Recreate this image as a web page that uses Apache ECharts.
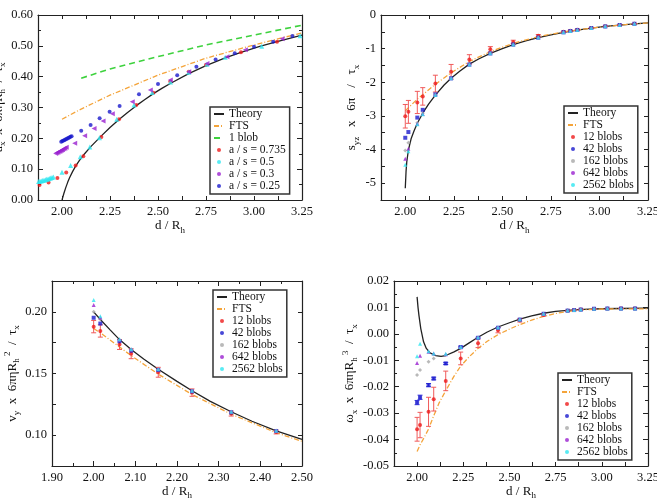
<!DOCTYPE html>
<html>
<head>
<meta charset="utf-8">
<script src="https://cdn.jsdelivr.net/npm/echarts@6/dist/echarts.min.js"></script>
<style>
html, body { margin: 0; padding: 0; background: #fff; }
#chart { width: 657px; height: 503px; }
</style>
</head>
<body>
<div id="chart"></div>
<script>
// ---------- Panel A: u_x (sphere approaching wall) ----------
const uTheoryX = [2.000, 2.010, 2.020, 2.030, 2.040, 2.055, 2.071, 2.090, 2.111, 2.150, 2.205, 2.250, 2.297, 2.340, 2.387, 2.430, 2.476, 2.520, 2.564, 2.660, 2.750, 2.850, 2.932, 3.030, 3.120, 3.250];
const uTheoryY = [0.000, 0.022, 0.041, 0.058, 0.073, 0.092, 0.110, 0.128, 0.145, 0.173, 0.208, 0.235, 0.261, 0.283, 0.306, 0.325, 0.345, 0.362, 0.378, 0.410, 0.436, 0.461, 0.479, 0.498, 0.514, 0.535];
const uFtsX = [2.000, 2.100, 2.250, 2.500, 2.750, 3.000, 3.250];
const uFtsY = [0.262, 0.295, 0.340, 0.405, 0.460, 0.503, 0.542];
const uOneBlobX = [2.100, 2.250, 2.500, 2.750, 3.000, 3.250];
const uOneBlobY = [0.395, 0.425, 0.465, 0.503, 0.535, 0.567];
const uA0735X = [1.883, 1.930, 1.976, 2.022, 2.071, 2.111, 2.205, 2.297, 2.387, 2.476, 2.564, 2.660, 2.750, 2.932, 3.120];
const uA0735Y = [0.049, 0.057, 0.071, 0.089, 0.112, 0.142, 0.204, 0.262, 0.308, 0.348, 0.384, 0.416, 0.438, 0.479, 0.513];
const uA05X = [1.878, 1.885, 1.892, 1.899, 1.906, 1.913, 1.920, 1.927, 1.934, 1.941, 1.948, 1.955, 2.000, 2.045, 2.095, 2.145, 2.195, 2.285, 2.375, 2.470, 2.565, 2.660, 2.755, 2.850, 3.040, 3.240];
const uA05Y = [0.060, 0.061, 0.062, 0.063, 0.064, 0.066, 0.067, 0.068, 0.070, 0.071, 0.073, 0.075, 0.090, 0.112, 0.140, 0.172, 0.202, 0.262, 0.308, 0.349, 0.383, 0.414, 0.440, 0.463, 0.499, 0.533];
const uA03X = [1.967, 1.973, 1.979, 1.985, 1.991, 1.997, 2.003, 2.009, 2.015, 2.022, 2.066, 2.118, 2.167, 2.214, 2.262, 2.366, 2.460, 2.564, 2.660, 2.755, 2.859, 2.955, 3.146];
const uA03Y = [0.151, 0.153, 0.155, 0.157, 0.159, 0.161, 0.163, 0.166, 0.168, 0.171, 0.184, 0.208, 0.232, 0.256, 0.280, 0.319, 0.357, 0.389, 0.416, 0.443, 0.465, 0.487, 0.523];
const uA025X = [1.996, 2.002, 2.008, 2.014, 2.020, 2.026, 2.032, 2.038, 2.044, 2.050, 2.100, 2.149, 2.196, 2.248, 2.300, 2.401, 2.500, 2.600, 2.700, 2.800, 2.900, 3.000, 3.100, 3.200];
const uA025Y = [0.189, 0.191, 0.193, 0.195, 0.197, 0.199, 0.201, 0.203, 0.205, 0.207, 0.225, 0.243, 0.265, 0.286, 0.305, 0.343, 0.376, 0.405, 0.432, 0.456, 0.476, 0.497, 0.513, 0.532];

// sample separations used for the multi-blob runs (panels B, C, D)
const dSample = [2.000, 2.016, 2.062, 2.090, 2.155, 2.236, 2.330, 2.438, 2.556, 2.685, 2.815, 2.850, 2.886, 2.958, 3.030, 3.104, 3.180];

// ---------- Panel B: s_yz ----------
const sTheoryX = [2.000, 2.004, 2.008, 2.016, 2.030, 2.045, 2.062, 2.090, 2.120, 2.155, 2.200, 2.236, 2.280, 2.330, 2.380, 2.438, 2.500, 2.556, 2.620, 2.685, 2.750, 2.815, 2.886, 2.958, 3.030, 3.104, 3.180, 3.250];
const sTheoryY = [-5.15, -4.65, -4.35, -4.02, -3.68, -3.45, -3.22, -2.92, -2.65, -2.38, -2.08, -1.88, -1.67, -1.46, -1.30, -1.14, -1.00, -0.88, -0.77, -0.67, -0.59, -0.515, -0.45, -0.39, -0.34, -0.30, -0.262, -0.232];
const sFtsX = [2.000, 2.016, 2.062, 2.090, 2.155, 2.236, 2.330, 2.438, 2.556, 2.685, 2.815, 2.958, 3.104, 3.250];
const sFtsY = [-2.85, -2.76, -2.50, -2.37, -2.06, -1.72, -1.38, -1.09, -0.84, -0.645, -0.50, -0.39, -0.30, -0.235];
const s12Y = [-3.01, -2.88, -2.60, -2.42, -2.04, -1.69, -1.32, -1.02, -0.80, -0.62, -0.50, -0.47, -0.44, -0.385, -0.335, -0.295, -0.258];
const s12Err = [0.35, 0.34, 0.33, 0.26, 0.25, 0.22, 0.14, 0.08, 0.05, 0.04, 0.02, 0.02, 0.02, 0.015, 0.015, 0.01, 0.01];
const s42Y = [-3.65, -3.48, -3.05, -2.82, -2.36, -1.88, -1.47, -1.14, -0.875, -0.67, -0.51, -0.475, -0.445, -0.387, -0.338, -0.297, -0.26];
const s162Y = [-4.03, -3.80, -3.20, -2.92, -2.37, -1.88, -1.47, -1.14, -0.875, -0.668, -0.51, -0.476, -0.446, -0.388, -0.338, -0.297, -0.26];
const s642Y = [-4.27, -3.98, -3.23, -2.94, -2.38, -1.88, -1.47, -1.14, -0.876, -0.668, -0.51, -0.476, -0.446, -0.388, -0.338, -0.297, -0.26];
const s2562Y = [-4.45, -4.05, -3.25, -2.95, -2.38, -1.88, -1.47, -1.14, -0.876, -0.668, -0.51, -0.476, -0.446, -0.388, -0.338, -0.297, -0.26];

// ---------- Panel C: v_y ----------
const vTheoryX = [2.000, 2.016, 2.040, 2.062, 2.090, 2.120, 2.155, 2.200, 2.236, 2.280, 2.330, 2.380, 2.438, 2.500];
const vTheoryY = [0.2000, 0.1938, 0.1852, 0.1775, 0.1695, 0.1617, 0.1535, 0.1436, 0.1360, 0.1274, 0.1190, 0.1113, 0.1035, 0.0965];
const vFtsX = [2.000, 2.016, 2.062, 2.090, 2.155, 2.236, 2.330, 2.438, 2.500];
const vFtsY = [0.1865, 0.1830, 0.1715, 0.1645, 0.1495, 0.1330, 0.1170, 0.1020, 0.0950];
const v12Y = [0.1880, 0.1845, 0.1735, 0.1660, 0.1510, 0.1345, 0.1175, 0.1025];
const v12Err = [0.0050, 0.0050, 0.0040, 0.0040, 0.0040, 0.0030, 0.0020, 0.0015];
const v42Y = [0.1952, 0.1905, 0.1762, 0.1685, 0.1528, 0.1355, 0.1185, 0.1033];
const v162Y = [0.2000, 0.1940, 0.1772, 0.1692, 0.1533, 0.1358, 0.1188, 0.1035];
const v642Y = [0.2055, 0.1955, 0.1776, 0.1695, 0.1535, 0.1360, 0.1190, 0.1035];
const v2562Y = [0.2095, 0.1965, 0.1778, 0.1697, 0.1535, 0.1360, 0.1190, 0.1036];

// ---------- Panel D: omega_x ----------
const wTheoryX = [2.000, 2.005, 2.010, 2.020, 2.035, 2.050, 2.070, 2.100, 2.130, 2.155, 2.200, 2.236, 2.280, 2.330, 2.380, 2.438, 2.500, 2.556, 2.620, 2.685, 2.750, 2.815, 2.900, 3.000, 3.100, 3.250];
const wTheoryY = [0.0140, 0.0100, 0.0070, 0.0020, -0.0030, -0.0055, -0.0072, -0.0082, -0.0085, -0.0082, -0.0068, -0.0055, -0.0035, -0.0013, 0.0007, 0.0026, 0.0042, 0.0056, 0.0068, 0.0078, 0.0085, 0.0089, 0.0093, 0.0095, 0.0096, 0.0097];
const wFtsX = [2.000, 2.016, 2.040, 2.062, 2.090, 2.120, 2.155, 2.200, 2.236, 2.280, 2.330, 2.380, 2.438, 2.500, 2.556, 2.620, 2.685, 2.750, 2.815, 2.900, 3.000, 3.250];
const wFtsY = [-0.0445, -0.0420, -0.0390, -0.0360, -0.0310, -0.0260, -0.0215, -0.0160, -0.0122, -0.0088, -0.0055, -0.0028, -0.0003, 0.0018, 0.0035, 0.0052, 0.0066, 0.0077, 0.0085, 0.0091, 0.0094, 0.0095];
const w12Y = [-0.0361, -0.0345, -0.0295, -0.0247, -0.0178, -0.0093, -0.0036, 0.0014, 0.0051, 0.0071, 0.0087, 0.0090, 0.0092, 0.0094, 0.0095, 0.0096, 0.0096];
const w12Err = [0.0045, 0.0048, 0.0055, 0.0045, 0.0037, 0.0024, 0.0016, 0.0010, 0.0006, 0.0004, 0.0002, 0.0002, 0.0002, 0.0001, 0.0001, 0.0001, 0.0001];
const w42Y = [-0.0260, -0.0240, -0.0194, -0.0169, -0.0112, -0.0050, -0.0015, 0.0023, 0.0054, 0.0076, 0.0088, 0.0090, 0.0092, 0.0095, 0.0096, 0.0096, 0.0096];
const w42Err = [0.0008, 0.0008, 0.0006, 0.0005, 0.0004, 0.0003, 0.0002, 0.0001, 0, 0, 0, 0, 0, 0, 0, 0, 0];
const w162Y = [-0.0156, -0.0137, -0.0106, -0.0093, -0.0080, -0.0052, -0.0014, 0.0024, 0.0054, 0.0076, 0.0088, 0.0090, 0.0092, 0.0095, 0.0096, 0.0096, 0.0096];
const w642Y = [-0.0110, -0.0083, -0.0068, -0.0074, -0.0077, -0.0051, -0.0014, 0.0024, 0.0054, 0.0076, 0.0088, 0.0090, 0.0092, 0.0095, 0.0096, 0.0096, 0.0096];
const w2562Y = [-0.0085, -0.0037, -0.0066, -0.0074, -0.0075, -0.0050, -0.0014, 0.0024, 0.0054, 0.0076, 0.0088, 0.0090, 0.0092, 0.0095, 0.0096, 0.0096, 0.0096];

const legendA = ['Theory', 'FTS', '1 blob', 'a / s = 0.735', 'a / s = 0.5', 'a / s = 0.3', 'a / s = 0.25'];
const legendBlobs = ['Theory', 'FTS', '12 blobs', '42 blobs', '162 blobs', '642 blobs', '2562 blobs'];
const lineNames = ['Theory', 'FTS', '1 blob'];

// ---------- helpers ----------
const FONT = '"Liberation Serif", "Times New Roman", serif';
const INK = '#222';
const RED = '#ee1c1c', BLUE = '#1a1acc', GREY = '#a8a8a8', PURPLE = '#9a20d0', CYAN = '#2ee6f0';
const ORANGE = '#f4a43a', GREEN = '#3ed23e';

const RICH = {
    n: { fontFamily: FONT, fontSize: 13, color: '#111', lineHeight: 18, verticalAlign: 'middle' },
    s: { fontFamily: FONT, fontSize: 9, color: '#111', lineHeight: 9, verticalAlign: 'bottom' },
    p: { fontFamily: FONT, fontSize: 9, color: '#111', lineHeight: 9, verticalAlign: 'top' }
};

function pairs(xs, ys) { return xs.map((x, i) => [x, ys[i]]); }
function triples(xs, ys, es) { return xs.map((x, i) => [x, ys[i], es[i]]); }
function onStep(v, step) { const r = v / step; return Math.abs(r - Math.round(r)) < 1e-6; }

function valueAxis(gi, pos, o) {
    const main = pos === 'bottom' || pos === 'left';
    return {
        type: 'value', gridIndex: gi, position: pos,
        min: o.min, max: o.max, interval: o.interval,
        axisLine: { show: true, onZero: false, lineStyle: { color: INK, width: 1.2 } },
        axisTick: { show: true, inside: true, length: o.tickLen || 5, lineStyle: { color: INK, width: 1 } },
        minorTick: { show: !!o.minor, splitNumber: o.minor || 5, length: 3, lineStyle: { color: INK, width: 1 } },
        splitLine: { show: false },
        axisLabel: {
            show: main, margin: 5, fontFamily: FONT, fontSize: 12.5, color: '#111',
            showMinLabel: true, showMaxLabel: true, formatter: o.fmt
        },
        name: main ? o.name : '',
        nameLocation: 'middle', nameGap: o.gap || 0,
        nameTextStyle: { rich: RICH },
        silent: true
    };
}

function lineSeries(name, gi, data, style) {
    return {
        type: 'line', name, xAxisIndex: gi * 2, yAxisIndex: gi * 2, data,
        showSymbol: false, symbol: 'none', smooth: false,
        lineStyle: style, itemStyle: { color: style.color }, clip: true, z: 2, silent: true
    };
}

function scatterSeries(name, gi, data, color, symbol, size, rotate) {
    return {
        type: 'scatter', name, xAxisIndex: gi * 2, yAxisIndex: gi * 2, data,
        symbol, symbolSize: size, symbolRotate: rotate || 0,
        itemStyle: { color }, clip: true, z: 4, silent: true
    };
}

function errorBarItem(params, api) {
    const x = api.value(0), y = api.value(1), e = api.value(2);
    if (!e) return null;
    const hi = api.coord([x, y + e]);
    const lo = api.coord([x, y - e]);
    const w = 2.5;
    const style = { stroke: api.visual('color'), lineWidth: 1 };
    return {
        type: 'group',
        children: [
            { type: 'line', shape: { x1: hi[0], y1: hi[1], x2: lo[0], y2: lo[1] }, style },
            { type: 'line', shape: { x1: hi[0] - w, y1: hi[1], x2: hi[0] + w, y2: hi[1] }, style },
            { type: 'line', shape: { x1: lo[0] - w, y1: lo[1], x2: lo[0] + w, y2: lo[1] }, style }
        ]
    };
}

function errorSeries(name, gi, data, color) {
    return {
        type: 'custom', name, xAxisIndex: gi * 2, yAxisIndex: gi * 2, data,
        dimensions: ['x', 'y', 'e'], encode: { x: 0, y: 1 },
        renderItem: errorBarItem, itemStyle: { color }, clip: true, z: 3, silent: true
    };
}

function blobSeries(gi, xs, y12, e12, y42, e42, y162, y642, y2562) {
    const out = [errorSeries('12 blobs err', gi, triples(xs, y12, e12), '#f05a5a')];
    if (e42) out.push(errorSeries('42 blobs err', gi, triples(xs, y42, e42), '#3a3ae0'));
    out.push(
        scatterSeries('12 blobs', gi, pairs(xs, y12), RED, 'circle', 4),
        scatterSeries('42 blobs', gi, pairs(xs, y42), BLUE, 'rect', 4),
        scatterSeries('162 blobs', gi, pairs(xs, y162), GREY, 'diamond', 4),
        scatterSeries('642 blobs', gi, pairs(xs, y642), PURPLE, 'triangle', 4),
        scatterSeries('2562 blobs', gi, pairs(xs, y2562), CYAN, 'triangle', 4)
    );
    return out;
}

// legend entries: plain line sample for curves, small dot for marker sets
function legendItems(names) {
    return names.map(n => lineNames.includes(n)
        ? { name: n, itemStyle: { opacity: 0 } }
        : { name: n, icon: 'circle' });
}

const fmt2 = v => v.toFixed(2);
const quarterLabel = v => onStep(v, 0.25) ? v.toFixed(2) : '';
const dName = '{n|d / R}{s|h}';

const xWide = (gi, pos, gap) => valueAxis(gi, pos, { min: 1.875, max: 3.25, interval: 0.125, tickLen: 4, fmt: quarterLabel, name: dName, gap });

const theoryStyle = { color: INK, width: 1.3, type: 'solid' };
const ftsStyle = { color: ORANGE, width: 1.3, type: [5, 2, 1, 2] };
const oneBlobStyle = { color: GREEN, width: 1.6, type: [6, 4] };

const legendCommon = {
    orient: 'vertical', itemGap: 0, itemWidth: 10, itemHeight: 4,
    padding: [1, 4, 2, 3], borderColor: '#333', borderWidth: 1.5, backgroundColor: '#fff',
    textStyle: { fontFamily: FONT, fontSize: 11.5, color: '#111', lineHeight: 11.6 },
    selectedMode: false
};

const option = {
    animation: false,
    backgroundColor: '#fff',
    grid: [
        { left: 38, top: 15, width: 264, height: 185, outerBoundsMode: 'none' },
        { left: 381, top: 15, width: 267, height: 185, outerBoundsMode: 'none' },
        { left: 52, top: 281, width: 250, height: 185, outerBoundsMode: 'none' },
        { left: 394, top: 281, width: 254, height: 185, outerBoundsMode: 'none' }
    ],
    xAxis: [
        xWide(0, 'bottom', 17), xWide(0, 'top'),
        xWide(1, 'bottom', 17), xWide(1, 'top'),
        valueAxis(2, 'bottom', { min: 1.9, max: 2.5, interval: 0.1, minor: 2, fmt: fmt2, name: dName, gap: 16 }),
        valueAxis(2, 'top', { min: 1.9, max: 2.5, interval: 0.1, minor: 2 }),
        xWide(3, 'bottom', 16), xWide(3, 'top')
    ],
    yAxis: [
        valueAxis(0, 'left', { min: 0, max: 0.6, interval: 0.1, minor: 2, fmt: fmt2, gap: 16,
            name: '{n|u}{s|x}{n|  x  6πηR}{s|h}{n|  /  τ}{s|x}' }),
        valueAxis(0, 'right', { min: 0, max: 0.6, interval: 0.1, minor: 2 }),
        valueAxis(1, 'left', { min: -5.5, max: 0, interval: 0.5, tickLen: 4, gap: 20,
            fmt: v => onStep(v, 1) ? String(Math.round(v)) : '',
            name: '{n|s}{s|yz}{n|   x   6π   /   τ}{s|x}' }),
        valueAxis(1, 'right', { min: -5.5, max: 0, interval: 0.5, tickLen: 4 }),
        valueAxis(2, 'left', { min: 0.075, max: 0.225, interval: 0.025, tickLen: 4, gap: 30,
            fmt: v => onStep(v, 0.05) ? v.toFixed(2) : '',
            name: '{n|v}{s|y}{n|  x  6πηR}{s|h}{p| 2}{n|  /  τ}{s|x}' }),
        valueAxis(2, 'right', { min: 0.075, max: 0.225, interval: 0.025, tickLen: 4 }),
        valueAxis(3, 'left', { min: -0.05, max: 0.02, interval: 0.01, minor: 2, fmt: fmt2, gap: 30,
            name: '{n|ω}{s|x}{n|  x  6πηR}{s|h}{p| 3}{n|  /  τ}{s|x}' }),
        valueAxis(3, 'right', { min: -0.05, max: 0.02, interval: 0.01, minor: 2 })
    ],
    legend: [
        Object.assign({ data: legendItems(legendA), left: 210, top: 107 }, legendCommon),
        Object.assign({ data: legendItems(legendBlobs), left: 564, top: 106 }, legendCommon),
        Object.assign({ data: legendItems(legendBlobs), left: 213, top: 290 }, legendCommon),
        Object.assign({ data: legendItems(legendBlobs), left: 558, top: 373 }, legendCommon)
    ],
    series: [
        // Panel A
        lineSeries('Theory', 0, pairs(uTheoryX, uTheoryY), theoryStyle),
        lineSeries('FTS', 0, pairs(uFtsX, uFtsY), ftsStyle),
        lineSeries('1 blob', 0, pairs(uOneBlobX, uOneBlobY), oneBlobStyle),
        scatterSeries('a / s = 0.735', 0, pairs(uA0735X, uA0735Y), RED, 'circle', 4),
        scatterSeries('a / s = 0.5', 0, pairs(uA05X, uA05Y), CYAN, 'triangle', 5),
        scatterSeries('a / s = 0.3', 0, pairs(uA03X, uA03Y), PURPLE, 'triangle', 5, 90),
        scatterSeries('a / s = 0.25', 0, pairs(uA025X, uA025Y), BLUE, 'circle', 4),
        // Panel B
        lineSeries('Theory', 1, pairs(sTheoryX, sTheoryY), theoryStyle),
        lineSeries('FTS', 1, pairs(sFtsX, sFtsY), ftsStyle),
        ...blobSeries(1, dSample, s12Y, s12Err, s42Y, null, s162Y, s642Y, s2562Y),
        // Panel C
        lineSeries('Theory', 2, pairs(vTheoryX, vTheoryY), theoryStyle),
        lineSeries('FTS', 2, pairs(vFtsX, vFtsY), ftsStyle),
        ...blobSeries(2, dSample.slice(0, 8), v12Y, v12Err, v42Y, null, v162Y, v642Y, v2562Y),
        // Panel D
        lineSeries('Theory', 3, pairs(wTheoryX, wTheoryY), theoryStyle),
        lineSeries('FTS', 3, pairs(wFtsX, wFtsY), ftsStyle),
        ...blobSeries(3, dSample, w12Y, w12Err, w42Y, w42Err, w162Y, w642Y, w2562Y)
    ]
};

const chart = echarts.init(document.getElementById('chart'), null, { renderer: 'canvas' });
chart.setOption(option);
</script>
</body>
</html>
